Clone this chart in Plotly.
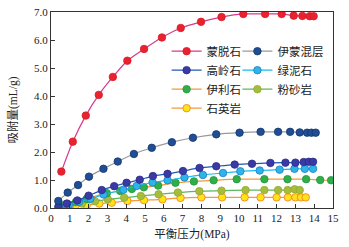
import plotly.graph_objects as go

# ---- data ----
mont_x = [0.55, 1.16, 1.85, 2.54, 3.29, 4.06, 4.95, 5.90, 6.90, 7.98, 9.07, 10.23, 11.39, 12.27, 12.91, 13.37, 13.76, 13.97]
mont_y = [1.30, 2.37, 3.30, 4.04, 4.68, 5.26, 5.68, 6.09, 6.43, 6.65, 6.82, 6.93, 6.93, 6.93, 6.87, 6.86, 6.85, 6.85]

ims_x = [0.39, 0.89, 1.44, 2.02, 2.79, 3.55, 4.41, 5.36, 6.43, 7.55, 8.79, 10.03, 11.15, 12.08, 12.72, 13.23, 13.62, 13.85, 14.08]
ims_y = [0.25, 0.55, 0.82, 1.12, 1.40, 1.66, 1.93, 2.15, 2.35, 2.51, 2.63, 2.69, 2.72, 2.72, 2.72, 2.70, 2.69, 2.69, 2.69]

kao_x = [0.40, 0.85, 1.40, 2.00, 2.70, 3.36, 4.02, 4.72, 5.42, 6.20, 7.02, 7.90, 8.79, 9.77, 10.69, 11.67, 12.47, 13.00, 13.44, 13.71, 13.94]
kao_y = [0.06, 0.16, 0.27, 0.44, 0.64, 0.78, 0.90, 1.01, 1.14, 1.22, 1.32, 1.43, 1.49, 1.55, 1.58, 1.61, 1.62, 1.62, 1.64, 1.65, 1.65]

chl_x = [0.45, 0.95, 1.50, 2.10, 2.80, 3.85, 4.56, 5.40, 6.20, 7.10, 8.08, 9.15, 10.07, 11.10, 12.16, 12.95, 13.50, 13.94]
chl_y = [0.04, 0.12, 0.22, 0.33, 0.48, 0.65, 0.79, 0.91, 0.99, 1.09, 1.18, 1.25, 1.31, 1.34, 1.37, 1.40, 1.40, 1.40]

ill_x = [0.39, 0.78, 1.32, 1.90, 2.97, 3.68, 4.30, 4.94, 5.70, 6.62, 7.60, 8.65, 9.88, 11.35, 12.58, 13.57, 14.32, 14.90]
ill_y = [0.03, 0.13, 0.21, 0.33, 0.53, 0.61, 0.68, 0.74, 0.80, 0.90, 0.95, 0.99, 1.03, 1.03, 1.03, 1.03, 1.00, 0.99]

silt_x = [0.53, 1.01, 1.64, 2.34, 3.02, 3.89, 4.78, 5.72, 6.75, 7.89, 9.07, 10.35, 11.35, 12.08, 12.59, 12.96, 13.23]
silt_y = [0.04, 0.10, 0.16, 0.24, 0.31, 0.37, 0.43, 0.49, 0.55, 0.60, 0.62, 0.64, 0.64, 0.64, 0.64, 0.67, 0.64]

qtz_x = [0.66, 1.28, 1.90, 2.57, 3.23, 4.06, 4.95, 5.93, 6.89, 8.00, 9.10, 10.30, 11.15, 12.00, 12.60, 13.00, 13.30, 13.55]
qtz_y = [0.01, 0.05, 0.10, 0.16, 0.19, 0.25, 0.28, 0.31, 0.36, 0.38, 0.38, 0.38, 0.38, 0.38, 0.38, 0.38, 0.38, 0.38]

x_ticks = list(range(0, 16))
y_ticks = [0, 1, 2, 3, 4, 5, 6, 7]

FONT = "Liberation Serif, Noto Sans CJK SC, serif"

series = [
    # name, x, y, line color, marker fill, marker outline, legend
    ("石英岩", qtz_x, qtz_y, "#f39a3c", "#ffe414", "#f07a28", "legend"),
    ("粉砂岩", silt_x, silt_y, "#5cb85c", "#a6bd3c", "#93a832", "legend2"),
    ("伊利石", ill_x, ill_y, "#f39a3c", "#2fae4a", "#23953c", "legend"),
    ("绿泥石", chl_x, chl_y, "#1ab8ee", "#2db4ea", "#1a7fc0", "legend2"),
    ("高岭石", kao_x, kao_y, "#2058b0", "#3a3aa6", "#2c2c8a", "legend"),
    ("伊蒙混层", ims_x, ims_y, "#9a9a9a", "#1f4e96", "#15366c", "legend2"),
    ("蒙脱石", mont_x, mont_y, "#d63a8c", "#ea2230", "#d81c28", "legend"),
]

order = {"蒙脱石": 0, "高岭石": 1, "伊利石": 2, "石英岩": 3,
         "伊蒙混层": 0, "绿泥石": 1, "粉砂岩": 2}

fig = go.Figure()
for name, xs, ys, lc, mf, mo, lg in series:
    fig.add_trace(go.Scatter(
        x=xs, y=ys, name=name, mode="lines+markers",
        line=dict(color=lc, width=1.2, shape="spline", smoothing=0.8),
        marker=dict(size=7.5, color=mf, line=dict(color=mo, width=0.8)),
        legend=lg, legendrank=order[name],
    ))

fig.update_layout(
    width=349, height=247,
    margin=dict(l=51, r=16, t=12, b=39),
    paper_bgcolor="white", plot_bgcolor="white",
    font=dict(family=FONT, size=11, color="#1a1a1a"),
    showlegend=True,
    legend=dict(x=0.41, y=0.874, xanchor="left", yanchor="top",
                bgcolor="rgba(0,0,0,0)", itemwidth=30,
                font=dict(family=FONT, size=11.5, color="#222"),
                tracegroupgap=0, traceorder="normal"),
    legend2=dict(x=0.661, y=0.874, xanchor="left", yanchor="top",
                 bgcolor="rgba(0,0,0,0)", itemwidth=30,
                 font=dict(family=FONT, size=11.5, color="#222"),
                 tracegroupgap=0, traceorder="normal"),
)

fig.update_xaxes(
    range=[0, 15], tickvals=x_ticks, ticktext=[str(v) for v in x_ticks],
    automargin=False,
    ticks="inside", ticklen=4, tickcolor="#333", showgrid=False, zeroline=False,
    showline=True, linecolor="#333", linewidth=1, mirror=True,
    tickfont=dict(family=FONT, size=11, color="#1a1a1a"),
    title=dict(text="平衡压力(MPa)", font=dict(family=FONT, size=11.5, color="#222"), standoff=6),
)
fig.update_yaxes(
    range=[0, 7], tickvals=y_ticks, ticktext=[f"{v:.1f}" for v in y_ticks],
    automargin=False,
    ticks="inside", ticklen=4, tickcolor="#333", showgrid=False, zeroline=False,
    showline=True, linecolor="#333", linewidth=1, mirror=True,
    tickfont=dict(family=FONT, size=11, color="#1a1a1a"),
    title=dict(text="吸附量(mL/g)", font=dict(family=FONT, size=11.5, color="#222"), standoff=14),
)

fig.write_html("out.html", config={"displayModeBar": False},
               post_script="document.body.style.margin='0';document.body.style.padding='0';")
